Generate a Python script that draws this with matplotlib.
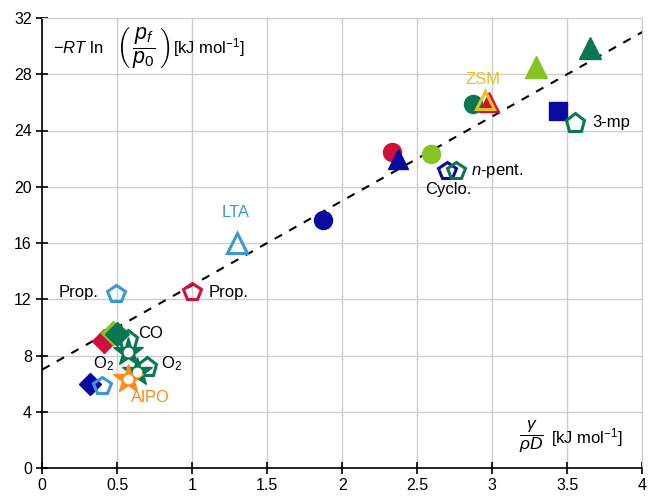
import matplotlib.pyplot as plt
import numpy as np

plt.rcParams['font.family'] = ['Liberation Sans', 'DejaVu Sans']
plt.rcParams['mathtext.fontset'] = 'custom'
plt.rcParams['mathtext.rm'] = 'Liberation Sans'
plt.rcParams['mathtext.it'] = 'Liberation Sans:italic'

# colours
navy = "#0a0a9e"
red = "#d20f3c"
lgreen = "#86c424"
dgreen = "#0b7750"
lblue = "#3a98d8"
orange = "#ff8a1c"
yellow = "#e6c21e"

# fitted line: y = a + b*x
fit_a = 7.0
fit_b = 6.0

# data: x, y, marker, colour, filled
x_vals = [0.32, 0.40, 0.41, 0.47, 0.50, 0.57, 0.70, 0.49, 1.00, 1.30,
          1.87, 2.33, 2.37, 2.59, 2.70, 2.76, 2.87, 2.95, 2.98, 3.29,
          3.65, 3.44, 3.55]
y_vals = [6.0, 5.8, 9.0, 9.6, 9.5, 9.1, 7.2, 12.4, 12.5, 16.0,
          17.6, 22.5, 22.0, 22.3, 21.1, 21.1, 25.9, 26.2, 26.0, 28.5,
          29.9, 25.4, 24.5]
markers = ["D", "p", "D", "D", "D", "p", "p", "p", "p", "^",
           "o", "o", "^", "o", "p", "p", "o", "^", "^", "^",
           "^", "s", "p"]
colors = [navy, lblue, red, lgreen, dgreen, dgreen, dgreen, lblue, red, lblue,
          navy, red, navy, lgreen, navy, dgreen, dgreen, yellow, red, lgreen,
          dgreen, navy, dgreen]
filled = [True, False, True, True, True, False, False, False, False, False,
          True, True, True, True, False, False, True, False, True, True,
          True, True, False]
sizes = [11, 13, 12, 12, 12, 14, 14, 13, 13, 14,
         13, 13, 14, 13, 13, 13, 13, 13, 14, 16,
         16, 13, 14]

# star markers (AlPO / zeolite)
star_x = [0.57, 0.63, 0.57]
star_y = [8.25, 6.8, 6.3]
star_colors = [dgreen, dgreen, orange]

fig = plt.figure(figsize=(6.5, 5), dpi=100)
ax = fig.add_axes([0.065, 0.064, 0.923, 0.9])

ax.set_xlim(0, 4)
ax.set_ylim(0, 32)
ax.set_xticks(np.arange(0, 4.01, 0.5))
ax.set_xticklabels(["0", "0.5", "1", "1.5", "2", "2.5", "3", "3.5", "4"])
ax.set_yticks(np.arange(0, 33, 4))
ax.grid(True, color="#cccccc", lw=1)
ax.set_axisbelow(True)
for s in ["top", "right"]:
    ax.spines[s].set_color("#cccccc")
for s in ["left", "bottom"]:
    ax.spines[s].set_color("black")
    ax.spines[s].set_linewidth(1.2)
ax.tick_params(direction="inout", length=8, width=1.2, labelsize=11.5)
ax.tick_params(top=False, right=False)

xx = np.array([0, 4])
ax.plot(xx, fit_a + fit_b * xx, ls=(0, (4, 4)), color="black", lw=1.5, zorder=2)

for x, y, m, c, f, s in zip(x_vals, y_vals, markers, colors, filled, sizes):
    if f:
        ax.plot(x, y, marker=m, color=c, ms=s, mec=c, ls="none", zorder=3)
    else:
        ax.plot(x, y, marker=m, mfc="none", mec=c, ms=s, mew=2.2, ls="none", zorder=4)

for x, y, c in zip(star_x, star_y, star_colors):
    ax.plot(x, y, marker="*", color=c, ms=22, ls="none", zorder=4)
    ax.plot(x, y, marker="o", color="white", ms=6, ls="none", zorder=5)

# labels
fs = 12
ax.text(0.64, 9.6, "CO", fontsize=fs, va="center")
ax.text(0.79, 7.4, "O$_2$", fontsize=fs, va="center")
ax.text(0.34, 7.4, "O$_2$", fontsize=fs, va="center")
ax.text(0.59, 5.0, "AlPO", fontsize=fs, va="center", color=orange)
ax.text(0.11, 12.5, "Prop.", fontsize=fs, va="center")
ax.text(1.11, 12.5, "Prop.", fontsize=fs, va="center")
ax.text(1.29, 18.2, "LTA", fontsize=fs, va="center", ha="center", color=lblue)
ax.text(2.86, 21.1, "$\\it{n}$-pent.", fontsize=fs, va="center")
ax.text(2.55, 19.8, "Cyclo.", fontsize=fs, va="center")
ax.text(2.82, 27.6, "ZSM", fontsize=fs, va="center", color=yellow)
ax.text(3.67, 24.6, "3-mp", fontsize=fs, va="center")

# axis titles inside the plot
ty = 29.9
ax.text(0.07, ty, r"$-RT$ ln", fontsize=12, va="center", ha="left")
ax.text(0.49, ty, r"$\left(\,\dfrac{p_f}{p_0}\,\right)$", fontsize=15.5, va="center", ha="left")
ax.text(0.87, ty, r"[kJ mol$^{-1}$]", fontsize=12, va="center", ha="left")
ax.text(3.265, 2.2, r"$\dfrac{\gamma}{\rho D}$", fontsize=12.5, va="center", ha="center")
ax.text(3.39, 2.2, r"[kJ mol$^{-1}$]", fontsize=12, va="center", ha="left")

fig.savefig("out.png", dpi=100)
